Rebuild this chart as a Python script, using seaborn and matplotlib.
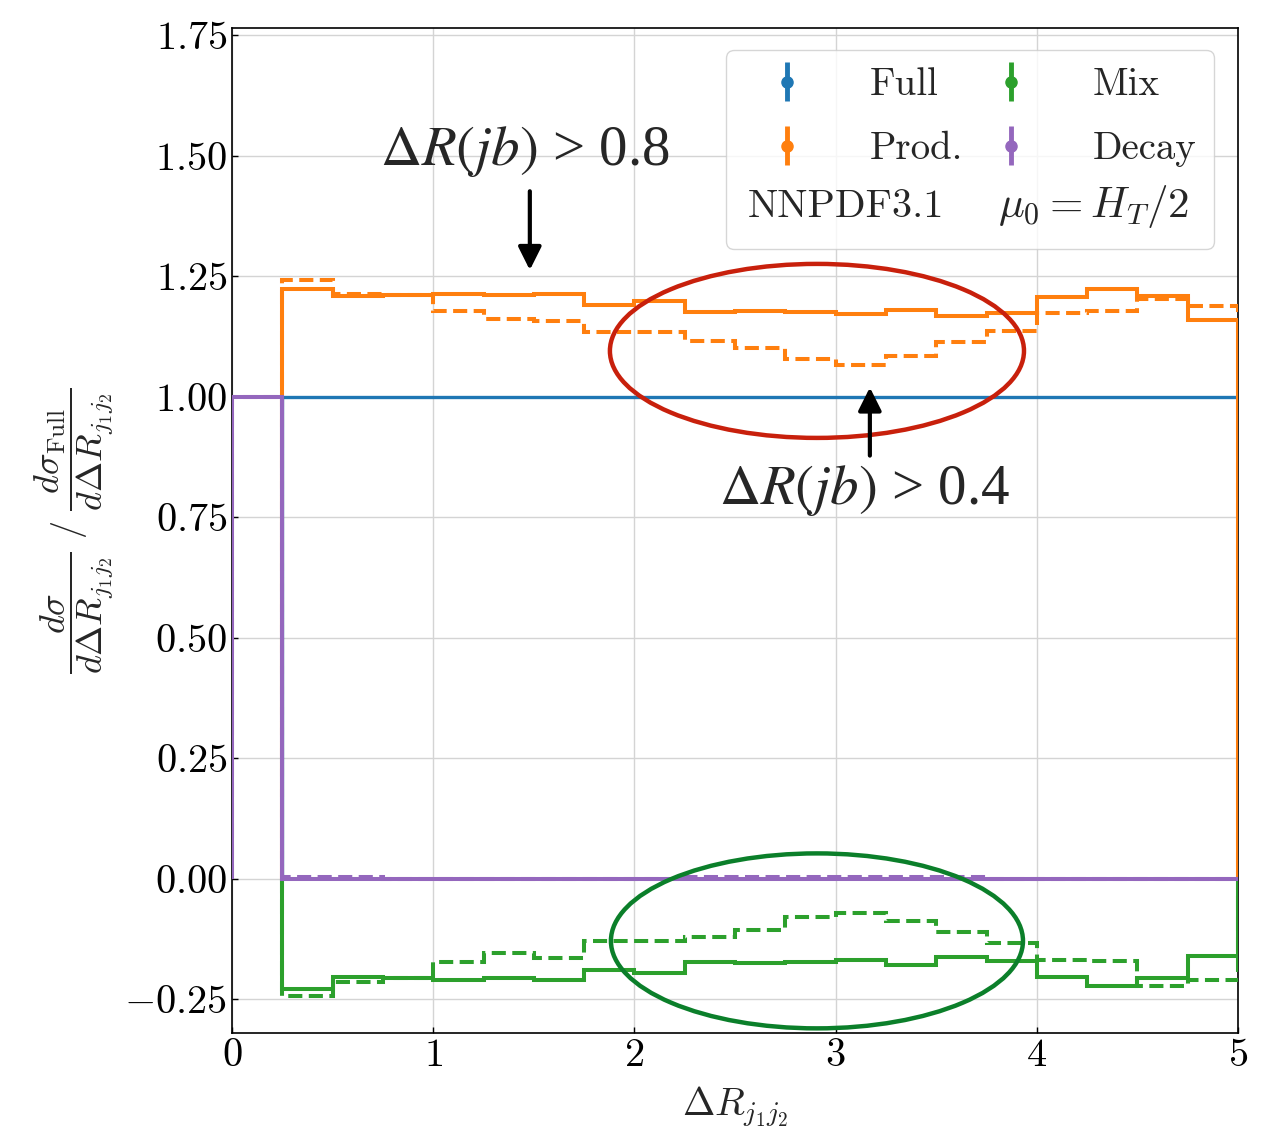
import numpy as np
import matplotlib
matplotlib.use("Agg")
import matplotlib.pyplot as plt
from matplotlib.patches import Ellipse
from matplotlib.lines import Line2D
import seaborn as sns

# ---- data ----
edges = np.arange(0.25, 5.0001, 0.25)          # 19 bins from 0.25 to 5
edges_decay = np.arange(0.0, 5.0001, 0.25)     # 20 bins from 0 to 5
full_vals = [1.0] * 19
prod_solid = [1.223, 1.209, 1.212, 1.213, 1.210, 1.214, 1.190, 1.199, 1.175, 1.178,
              1.175, 1.171, 1.180, 1.167, 1.173, 1.206, 1.223, 1.208, 1.160]
prod_dashed = [1.243, 1.214, 1.210, 1.178, 1.162, 1.157, 1.134, 1.134, 1.116, 1.101,
               1.079, 1.066, 1.084, 1.114, 1.136, 1.174, 1.178, 1.203, 1.189]
mix_solid = [-0.229, -0.204, -0.207, -0.210, -0.207, -0.211, -0.189, -0.196, -0.173, -0.175,
             -0.173, -0.169, -0.180, -0.163, -0.170, -0.204, -0.222, -0.207, -0.161]
mix_dashed = [-0.244, -0.215, -0.207, -0.173, -0.155, -0.164, -0.130, -0.130, -0.120, -0.106,
              -0.079, -0.072, -0.088, -0.110, -0.134, -0.168, -0.171, -0.222, -0.210]
decay_solid = [1.0] + [0.0] * 19
decay_dashed = [1.0, 0.003, 0.003, 0.0, 0.0, 0.0, 0.0, 0.0, 0.0, 0.003, 0.003,
                0.003, 0.003, 0.003, 0.003, 0.0, 0.0, 0.0, 0.0, 0.0]
labels = ["Full", "Prod.", "Mix", "Decay"]
yticks = [-0.25, 0.0, 0.25, 0.5, 0.75, 1.0, 1.25, 1.5, 1.75]
xticks = [0, 1, 2, 3, 4, 5]

# ---- style ----
sns.set_style("whitegrid")
pal = sns.color_palette("tab10")
c_full, c_prod, c_mix, c_decay = pal[0], pal[1], pal[2], pal[4]
plt.rcParams["font.family"] = ["cmr10", "DejaVu Serif"]
plt.rcParams["mathtext.fontset"] = "cm"
plt.rcParams["axes.formatter.use_mathtext"] = True

fig = plt.figure(figsize=(12.68, 11.41), dpi=100)
ax = fig.add_axes([0.183, 0.0947, 0.7934, 0.8808])
ax.set_facecolor("white")
for s in ax.spines.values():
    s.set_color("black")
    s.set_linewidth(1.2)
ax.grid(True, color="#d4d4d4", linewidth=1.0)

lw = 2.9
dash = (0, (3.5, 1.6))
ax.stairs(full_vals, edges, baseline=0, color=c_full, lw=2.4, zorder=3)
ax.stairs(prod_dashed, edges, baseline=0, color=c_prod, lw=lw, ls=dash, zorder=3)
ax.stairs(prod_solid, edges, baseline=0, color=c_prod, lw=lw, zorder=3)
ax.stairs(mix_dashed, edges, baseline=0, color=c_mix, lw=lw, ls=dash, zorder=3)
ax.stairs(mix_solid, edges, baseline=0, color=c_mix, lw=lw, zorder=3)
ax.stairs(decay_dashed, edges_decay, baseline=0, color=c_decay, lw=lw, ls=dash, zorder=3)
ax.stairs(decay_solid, edges_decay, baseline=0, color=c_decay, lw=lw, zorder=3)

# legend handles (errorbar style)
hs = []
for c in [c_full, c_prod, c_mix, c_decay]:
    h = ax.errorbar([np.nan], [np.nan], yerr=[0.1], fmt="o", color=c, ms=8, elinewidth=3.5)
    hs.append(h)
blank = Line2D([], [], linestyle="none")
leg = ax.legend([hs[0], hs[1], blank, hs[2], hs[3], blank],
                [labels[0], labels[1], " ", labels[2], labels[3], " "],
                ncol=2, loc="upper right", bbox_to_anchor=(0.976, 0.978), borderaxespad=0,
                fontsize=28, handlelength=2.26, handletextpad=0.98, columnspacing=0.1,
                labelspacing=0.72, frameon=True, fancybox=True, framealpha=0.8,
                edgecolor="#cccccc", borderpad=0.45)
leg.set_zorder(5)
ax.text(0.513, 0.822, "NNPDF3.1", transform=ax.transAxes, fontsize=29, va="center", ha="left", zorder=6)
ax.text(0.761, 0.822, r"$\mu_0 = H_T/2$", transform=ax.transAxes, fontsize=31, va="center", ha="left", zorder=6)

# ellipses
ax.add_patch(Ellipse((2.907, 1.095), 2.058, 0.361, fill=False, edgecolor="#c8200c", lw=3.2, zorder=4))
ax.add_patch(Ellipse((2.907, -0.129), 2.048, 0.363, fill=False, edgecolor="#0b7f2a", lw=3.2, zorder=4))

# annotations
ax.annotate("", xy=(1.48, 1.257), xytext=(1.48, 1.432),
            arrowprops=dict(arrowstyle="-|>", lw=3, color="k", mutation_scale=35), zorder=6)
ax.text(1.455, 1.508, r"$\Delta R(jb)$ > 0.8", fontsize=41, ha="center", va="center",
        family="Liberation Serif", math_fontfamily="stix", zorder=6)
ax.annotate("", xy=(3.17, 1.025), xytext=(3.17, 0.872),
            arrowprops=dict(arrowstyle="-|>", lw=3, color="k", mutation_scale=35), zorder=6)
ax.text(3.145, 0.805, r"$\Delta R(jb)$ > 0.4", fontsize=41, ha="center", va="center",
        family="Liberation Serif", math_fontfamily="stix", zorder=6)

ax.set_xlim(0, 5)
ax.set_ylim(-0.32, 1.765)
ax.set_xticks(xticks)
ax.set_yticks(yticks)
ax.set_xticklabels([f"${v}$" for v in xticks])
ax.set_yticklabels([f"${v:.2f}$" for v in yticks])
ax.tick_params(axis="both", labelsize=29, direction="in", length=4, width=1, colors="black",
               left=True, bottom=True)
ax.set_xlabel(r"$\Delta R_{j_1j_2}$", fontsize=28, labelpad=8)
ax.set_ylabel(r"$\dfrac{d\sigma}{d\Delta R_{j_1j_2}}\ /\ \dfrac{d\sigma_{\rm Full}}{d\Delta R_{j_1j_2}}$",
              fontsize=26, labelpad=6)

fig.savefig("out.png", dpi=100, facecolor="white")
